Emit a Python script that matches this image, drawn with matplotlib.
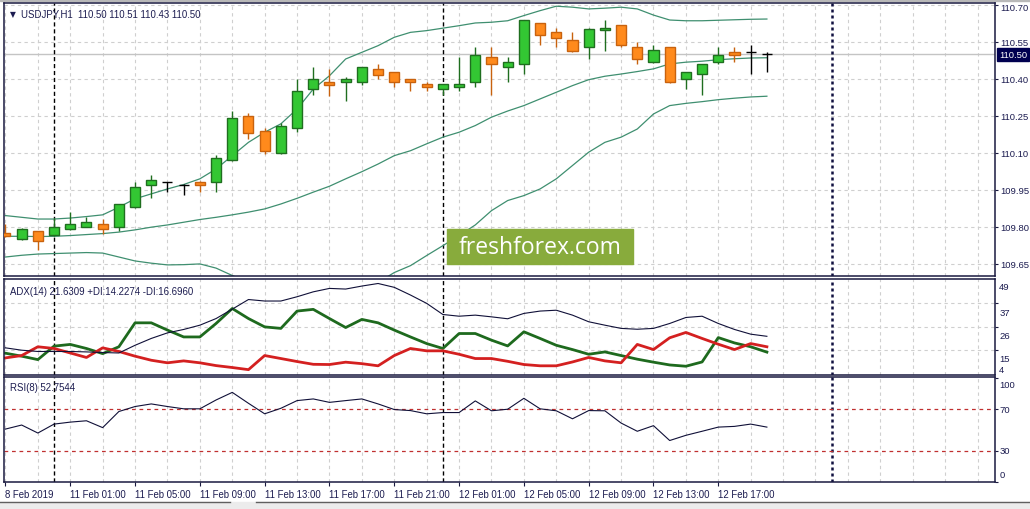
import matplotlib
matplotlib.use('Agg')
import matplotlib.pyplot as plt
from matplotlib.patches import Rectangle
import matplotlib.transforms as mtransforms
import numpy as np

plt.rcParams['font.family'] = ['Liberation Sans', 'DejaVu Sans']

# USDJPY H1 candles
open_ = [109.775, 109.750, 109.783, 109.767, 109.791, 109.801, 109.811, 109.801, 109.880, 109.970,
         109.982, 109.970, 109.982, 109.981, 110.070, 110.249, 110.188, 110.099, 110.200, 110.358,
         110.388, 110.387, 110.387, 110.439, 110.427, 110.399, 110.379, 110.358, 110.369, 110.387,
         110.488, 110.447, 110.460, 110.626, 110.589, 110.557, 110.529, 110.597, 110.618, 110.529,
         110.468, 110.529, 110.399, 110.419, 110.468, 110.508, 110.508, 110.500]
high = [109.812, 109.795, 109.785, 109.836, 109.862, 109.839, 109.831, 109.894, 109.982, 110.011,
        109.983, 109.975, 109.988, 110.091, 110.269, 110.261, 110.200, 110.220, 110.400, 110.447,
        110.439, 110.407, 110.449, 110.460, 110.429, 110.401, 110.387, 110.381, 110.488, 110.529,
        110.529, 110.488, 110.640, 110.628, 110.605, 110.589, 110.606, 110.638, 110.620, 110.549,
        110.537, 110.531, 110.429, 110.462, 110.529, 110.529, 110.537, 110.510]
low = [109.760, 109.748, 109.708, 109.765, 109.787, 109.799, 109.771, 109.783, 109.878, 109.919,
       109.941, 109.931, 109.941, 109.941, 110.068, 110.157, 110.096, 110.097, 110.186, 110.336,
       110.330, 110.310, 110.377, 110.399, 110.369, 110.350, 110.350, 110.336, 110.350, 110.369,
       110.336, 110.387, 110.419, 110.537, 110.529, 110.508, 110.480, 110.515, 110.529, 110.460,
       110.466, 110.385, 110.358, 110.336, 110.460, 110.468, 110.419, 110.430]
close = [109.765, 109.792, 109.742, 109.800, 109.811, 109.819, 109.791, 109.892, 109.961, 109.989,
         109.982, 109.970, 109.970, 110.079, 110.241, 110.180, 110.109, 110.209, 110.350, 110.399,
         110.377, 110.399, 110.447, 110.417, 110.387, 110.387, 110.369, 110.379, 110.379, 110.496,
         110.460, 110.468, 110.638, 110.577, 110.567, 110.515, 110.604, 110.605, 110.537, 110.480,
         110.516, 110.387, 110.427, 110.460, 110.496, 110.496, 110.508, 110.500]

# Bollinger bands
bb_upper = [109.846, 109.839, 109.832, 109.832, 109.836, 109.842, 109.849, 109.880, 109.914, 109.934,
            109.954, 109.972, 109.995, 110.035, 110.089, 110.143, 110.184, 110.218, 110.278, 110.359,
            110.413, 110.481, 110.508, 110.535, 110.569, 110.589, 110.596, 110.606, 110.616, 110.627,
            110.630, 110.636, 110.657, 110.677, 110.695, 110.691, 110.684, 110.687, 110.691, 110.684,
            110.659, 110.639, 110.636, 110.636, 110.638, 110.640, 110.642, 110.643]
bb_middle = [109.762, 109.762, 109.761, 109.762, 109.765, 109.769, 109.773, 109.779, 109.788, 109.799,
             109.808, 109.819, 109.830, 109.839, 109.849, 109.860, 109.873, 109.893, 109.916, 109.941,
             109.965, 109.995, 110.024, 110.055, 110.089, 110.109, 110.137, 110.164, 110.184, 110.211,
             110.245, 110.270, 110.292, 110.319, 110.346, 110.373, 110.397, 110.411, 110.420, 110.430,
             110.441, 110.461, 110.468, 110.472, 110.478, 110.482, 110.485, 110.486]
bb_lower = [109.678, 109.685, 109.690, 109.692, 109.694, 109.696, 109.694, 109.678, 109.662, 109.653,
            109.646, 109.647, 109.650, 109.633, 109.603, 109.577, 109.562, 109.568, 109.554, 109.523,
            109.517, 109.509, 109.540, 109.575, 109.615, 109.643, 109.684, 109.724, 109.765, 109.808,
            109.866, 109.907, 109.927, 109.954, 109.995, 110.049, 110.103, 110.143, 110.164, 110.197,
            110.258, 110.292, 110.301, 110.308, 110.316, 110.322, 110.327, 110.330]

# ADX(14)
adx = [16.2, 15.1, 14.5, 14.5, 14.5, 14.3, 14.0, 13.8, 17.4, 20.6,
       23.2, 24.8, 26.8, 29.9, 34.3, 38.8, 38.1, 38.1, 40.1, 42.4,
       44.0, 43.7, 45.1, 46.3, 44.5, 40.9, 37.0, 31.8, 31.0, 31.5,
       30.7, 29.8, 32.3, 33.4, 33.8, 31.5, 28.4, 26.8, 25.3, 24.9,
       25.3, 27.6, 30.4, 31.0, 27.6, 24.8, 22.6, 21.6]
plus_di = [13.7, 12.3, 10.7, 17.0, 17.8, 15.9, 13.5, 16.7, 27.9, 27.9,
           24.5, 21.3, 21.3, 27.6, 34.6, 29.9, 26.0, 25.3, 33.4, 34.2,
           29.9, 25.7, 29.5, 27.9, 24.5, 21.3, 18.2, 15.9, 22.9, 22.9,
           19.8, 17.1, 23.7, 20.6, 17.4, 15.4, 13.2, 14.3, 12.6, 10.9,
           9.5, 8.2, 7.6, 9.6, 21.0, 18.5, 16.7, 14.2]
minus_di = [11.5, 12.6, 16.7, 15.9, 13.8, 11.7, 16.2, 14.5, 12.3, 10.4,
            9.2, 10.1, 9.2, 7.9, 7.0, 6.0, 12.6, 11.2, 9.8, 8.5,
            8.4, 9.5, 8.8, 7.8, 12.6, 15.9, 14.8, 14.8, 13.2, 11.2,
            11.2, 9.9, 8.4, 7.8, 7.8, 9.6, 11.7, 10.1, 9.2, 17.8,
            15.4, 20.9, 23.4, 20.6, 17.9, 15.4, 18.2, 16.7]

# RSI(8)
rsi = [50.9, 54.8, 47.1, 55.7, 57.6, 58.9, 52.3, 67.8, 72.6, 75.1,
       72.6, 70.4, 70.4, 78.9, 86.2, 75.7, 65.6, 70.9, 78.3, 79.9,
       76.6, 78.3, 79.9, 75.1, 69.7, 68.7, 65.6, 66.8, 66.8, 78.0,
       68.5, 70.0, 80.5, 70.4, 68.5, 60.8, 68.7, 68.5, 56.7, 48.8,
       54.2, 39.9, 44.9, 48.8, 52.8, 53.5, 55.7, 52.8]

price_ticks = [109.65, 109.80, 109.95, 110.10, 110.25, 110.40, 110.55, 110.70]
last_price = 110.50
time_label_bars = [0, 4, 8, 12, 16, 20, 24, 28, 32, 36, 40, 44]
time_labels = ['8 Feb 2019', '11 Feb 01:00', '11 Feb 05:00', '11 Feb 09:00', '11 Feb 13:00',
               '11 Feb 17:00', '11 Feb 21:00', '12 Feb 01:00', '12 Feb 05:00', '12 Feb 09:00',
               '12 Feb 13:00', '12 Feb 17:00']
day_breaks = [3, 27]
future_break = 51

txt = '#1c1c50'
frame = '#1a1a40'
grid_c = '#cfcfcf'

W, H = 1030, 510
fig = plt.figure(figsize=(W / 100, H / 100), dpi=100)


def box(l, t, r, b):
    return [l / W, 1 - b / H, (r - l) / W, (b - t) / H]


# window chrome (behind everything)
fig.patches.append(Rectangle((0, 1 - 2 / H), 1, 2 / H, transform=fig.transFigure,
                             color='#b8b8b8', zorder=-1))
fig.patches.append(Rectangle((0, 0), 1, 7 / H, transform=fig.transFigure,
                             color='#ececec', zorder=-1))

ax = fig.add_axes(box(4, 4, 995, 277))
ax_adx = fig.add_axes(box(4, 280, 995, 376))
ax_rsi = fig.add_axes(box(4, 378, 995, 483))

x = np.arange(len(close))
xlim = (-0.09, 61.08)

for a in (ax, ax_adx, ax_rsi):
    a.set_xlim(*xlim)
    for b in range(0, 62, 2):
        a.axvline(b, color=grid_c, lw=0.8, ls=(0, (3, 3)), zorder=0)
    for b in day_breaks:
        a.axvline(b, color='black', lw=1.0, ls=(0, (3, 2)), zorder=1)
    a.axvline(future_break, color='#101040', lw=1.8, ls=(0, (1.2, 1.2)), zorder=1)
    for s in a.spines.values():
        s.set_color(frame)
        s.set_linewidth(1.1)
    a.yaxis.tick_right()
    a.tick_params(axis='y', direction='out', length=2.5, colors=frame, labelcolor=txt,
                  labelsize=6.8, pad=1)
    a.tick_params(axis='x', length=0, labelbottom=False)

# main panel
ax.set_ylim(109.601, 110.708)
ax.set_yticks(price_ticks)
ax.set_yticklabels([f'{p:.2f}' for p in price_ticks])
ylabs = ax.get_yticklabels()
# top label sits a little lower so it stays inside the window
ylabs[-1].set_transform(ylabs[-1].get_transform() +
                        mtransforms.ScaledTranslation(0, -2 / 100, fig.dpi_scale_trans))
for p in price_ticks:
    ax.axhline(p, color=grid_c, lw=0.8, ls=(0, (3, 3)), zorder=0)
ax.axhline(last_price, color='#c4c4c4', lw=1.0, zorder=0.5)

band_c = '#3f8f70'
ax.plot(x, bb_upper, color=band_c, lw=0.9, zorder=2)
ax.plot(x, bb_middle, color=band_c, lw=0.9, zorder=2)
ax.plot(x, bb_lower, color=band_c, lw=0.9, zorder=2)

o = np.array(open_)
c = np.array(close)
fills, edges = [], []
for oo, cc in zip(o, c):
    if cc > oo:
        fills.append('#33c733'); edges.append('#1f6e1f')
    elif cc < oo:
        fills.append('#ff8a1c'); edges.append('#c8620e')
    else:
        fills.append('black'); edges.append('black')
ax.vlines(x, low, high, colors=edges, lw=1.0, zorder=3)
body = np.minimum(o, c)
height = np.abs(c - o)
ax.bar(x, height, bottom=body, width=0.62, color=fills, edgecolor=edges, lw=1.0, zorder=4)

ax.text(0.006, 0.962, '\u25bc', transform=ax.transAxes, fontsize=5.5, color=txt,
        family='DejaVu Sans', va='center')
ax.text(0.017, 0.962, 'USDJPY,H1  110.50 110.51 110.43 110.50', transform=ax.transAxes,
        fontsize=6.9, color=txt, va='center')

ax.annotate(f'{last_price:.2f}', xy=(1, last_price), xycoords=('axes fraction', 'data'),
            xytext=(2.8, 0), textcoords='offset points', va='center', ha='left',
            fontsize=6.8, color='white', annotation_clip=False,
            bbox=dict(boxstyle='square,pad=0.22', fc='#000050', ec='#000050'))

# ADX panel
ax_adx.set_ylim(3.5, 48.4)
ax_adx.set_yticks([37, 26, 15])
ax_adx.set_yticklabels([])
for v in (37, 26, 15):
    ax_adx.axhline(v, color=grid_c, lw=0.8, ls=(0, (3, 3)), zorder=0)
ax_adx.plot(x, adx, color='#101038', lw=0.8, zorder=3)
ax_adx.plot(x, plus_di, color='#1e6a1e', lw=2.0, zorder=2)
ax_adx.plot(x, minus_di, color='#d42020', lw=2.0, zorder=2)
for v, off in ((49, -6), (37, -6.5), (26, -6), (15, -6), (4, 3.5)):
    ax_adx.annotate(str(v), xy=(1, v), xycoords=('axes fraction', 'data'), xytext=(3, off),
                    textcoords='offset points', va='center', ha='left', fontsize=6.8,
                    color=txt, annotation_clip=False)
ax_adx.text(0.006, 0.88, 'ADX(14) 21.6309 +DI:14.2274 -DI:16.6960', transform=ax_adx.transAxes,
            fontsize=6.9, color=txt, va='center')

# RSI panel
ax_rsi.set_ylim(1, 101)
ax_rsi.set_yticks([100, 70, 30, 0])
ax_rsi.set_yticklabels([])
for v in (70, 30):
    ax_rsi.axhline(v, color='#c03030', lw=0.9, ls=(0, (3, 3)), zorder=1)
ax_rsi.plot(x, rsi, color='#101038', lw=0.8, zorder=3)
for v, off in ((100, -4.5), (70, 0), (30, 0), (0, 5.5)):
    ax_rsi.annotate(str(v), xy=(1, v), xycoords=('axes fraction', 'data'), xytext=(3, off),
                    textcoords='offset points', va='center', ha='left', fontsize=6.8,
                    color=txt, annotation_clip=False)
ax_rsi.text(0.006, 0.9, 'RSI(8) 52.7544', transform=ax_rsi.transAxes,
            fontsize=6.9, color=txt, va='center')

ax_rsi.set_xticks(time_label_bars)
ax_rsi.set_xticklabels(time_labels)
ax_rsi.tick_params(axis='x', length=3, colors=frame, labelcolor=txt, labelsize=6.9,
                   labelbottom=True, pad=2)
for lab in ax_rsi.get_xticklabels():
    lab.set_horizontalalignment('left')

# watermark
fig.patches.append(Rectangle((447 / W, 1 - 265 / H), 186 / W, 35 / H,
                             transform=fig.transFigure, color='#88ab3c', zorder=5))
fig.text(540 / W, 1 - 248 / H, 'freshforex.com', color='white', fontsize=16.5,
         family='Open Sans', ha='center', va='center', zorder=6)

fig.lines.append(plt.Line2D([0, 230 / W], [7 / H, 7 / H], transform=fig.transFigure,
                            color='#606060', lw=1))
fig.lines.append(plt.Line2D([256 / W, 1], [7 / H, 7 / H], transform=fig.transFigure,
                            color='#606060', lw=1))

fig.savefig('out.png', dpi=100)
